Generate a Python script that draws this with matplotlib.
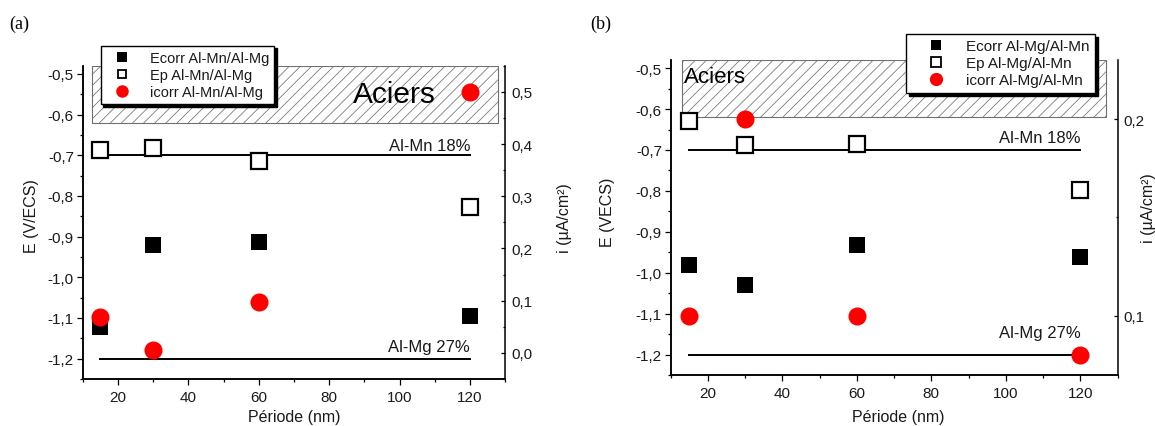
import matplotlib.pyplot as plt
from matplotlib.patches import Rectangle
from matplotlib.lines import Line2D
from matplotlib.ticker import MultipleLocator, FuncFormatter

plt.rcParams['font.family'] = ['Liberation Sans', 'DejaVu Sans']
plt.rcParams['hatch.linewidth'] = 0.55

W, H = 1155, 427

periods = [15, 30, 60, 120]

# (a) multilayers Al-Mn/Al-Mg
ecorr_a = [-1.123, -0.920, -0.913, -1.094]
ep_a = [-0.688, -0.682, -0.715, -0.827]
icorr_a = [0.068, 0.005, 0.098, 0.500]

# (b) multilayers Al-Mg/Al-Mn
ecorr_b = [-0.980, -1.031, -0.931, -0.961]
ep_b = [-0.628, -0.688, -0.686, -0.797]
icorr_b = [0.100, 0.200, 0.100, 0.080]

alloy_names = ['Al-Mn 18%', 'Al-Mg 27%']
alloy_E = [-0.70, -1.20]
alloy_span = [15, 120]
steel_E = [-0.62, -0.48]

TXT = '#1a1a1a'


def comma(v, pos):
  if abs(v) < 1e-9:
    v = 0.0
  return f"{v:.1f}".replace('.', ',')


def fx(px):
  return px / W


def fy(py):
  return 1 - py / H


def panel(box, ecorr, ep, icorr, ilim, steel_x, aciers, label_dy):
  l, t, r, b = box
  ax = plt.gcf().add_axes([fx(l), fy(b), fx(r) - fx(l), fy(t) - fy(b)])
  ax2 = ax.twinx()

  # steel domain
  ax.add_patch(Rectangle((steel_x[0], steel_E[0]), steel_x[1] - steel_x[0],
                         steel_E[1] - steel_E[0], facecolor='white',
                         edgecolor='#707070', hatch='///', lw=0.8, zorder=1))
  ax.text(aciers[0], aciers[1], 'Aciers', fontsize=aciers[2], color='k',
          va='baseline', ha='left', zorder=2)

  # pure alloys
  for name, e, dy in zip(alloy_names, alloy_E, label_dy):
    ax.plot(alloy_span, [e, e], color='k', lw=1.4, zorder=2)
    ax.text(alloy_span[1], e + dy, name, fontsize=12, color=TXT,
            ha='right', va='baseline')

  ax.plot(periods, ecorr, 's', ms=12, color='k', mew=0, zorder=3,
          clip_on=False)
  ax.plot(periods, ep, 's', ms=11, mfc='white', mec='k', mew=1.6, zorder=3,
          clip_on=False)
  ax2.plot(periods, icorr, 'o', ms=13, color='#ff0000', mew=0, zorder=4,
           clip_on=False)

  ax.set_xlim(10, 130)
  ax.set_ylim(-1.25, -0.48)
  ax2.set_ylim(*ilim)

  ax.xaxis.set_major_locator(MultipleLocator(20))
  ax.xaxis.set_minor_locator(MultipleLocator(10))
  ax.yaxis.set_major_locator(MultipleLocator(0.1))
  ax.yaxis.set_minor_locator(MultipleLocator(0.05))
  ax2.yaxis.set_major_locator(MultipleLocator(0.1))
  ax2.yaxis.set_minor_locator(MultipleLocator(0.05))
  ax.yaxis.set_major_formatter(FuncFormatter(comma))
  ax2.yaxis.set_major_formatter(FuncFormatter(comma))

  for a in (ax, ax2):
    a.spines['top'].set_visible(False)
    for s in a.spines.values():
      s.set_linewidth(1.1)
    a.patch.set_visible(False)
  ax.spines['right'].set_visible(False)
  ax.tick_params(axis='both', which='major', direction='out', length=4.3,
                 width=0.9, labelsize=11, labelcolor=TXT, color='k')
  ax.tick_params(axis='both', which='minor', direction='out', length=2.2,
                 width=0.9)
  ax.tick_params(axis='y', pad=2)
  ax.tick_params(axis='x', pad=3.5)
  ax2.tick_params(axis='y', which='major', direction='in', length=3.2,
                  width=0.9, labelsize=11, labelcolor=TXT, pad=4.5)
  ax2.tick_params(axis='y', which='minor', direction='in', length=1.6,
                  width=0.9)
  return ax, ax2


fig = plt.figure(figsize=(W / 100, H / 100), dpi=100)

panel((82.7, 66.7, 505.3, 380), ecorr_a, ep_a, icorr_a, (-0.05, 0.55),
      (12.5, 128), (86.8, -0.569, 21.5), (0.014, 0.018))
panel((670.7, 61, 1117.5, 376), ecorr_b, ep_b, icorr_b, (0.07, 0.23),
      (13, 127), (13.45, -0.535, 16), (0.02, 0.044))

# panel letters and axis titles
fig.text(fx(9), fy(24), '(a)', family='Liberation Serif', fontsize=13,
         va='center', ha='left')
fig.text(fx(590), fy(24), '(b)', family='Liberation Serif', fontsize=13,
         va='center', ha='left')

labels = [
  (31.4, 216, 'E (V/ECS)', 90), (564, 218, 'i (\u00b5A/cm\u00b2)', 90),
  (294, 418, 'P\u00e9riode (nm)', 0),
  (607.6, 212, 'E (VECS)', 90), (1149, 208, 'i (\u00b5A/cm\u00b2)', 90),
  (898, 418, 'P\u00e9riode (nm)', 0),
]
for x, y, s, rot in labels:
  fig.text(fx(x), fy(y), s, rotation=rot, ha='center', va='center',
           fontsize=11.5, color=TXT)


def legend(names, anchor, fs, ms_sq, ms_o, hl, htp):
  handles = [
    Line2D([], [], ls='none', marker='s', ms=ms_sq, color='k', mew=0),
    Line2D([], [], ls='none', marker='s', ms=ms_sq - 0.5, mfc='white',
           mec='k', mew=1.3),
    Line2D([], [], ls='none', marker='o', ms=ms_o, color='#ff0000', mew=0),
  ]
  leg = fig.legend(handles, names, loc='upper left',
                   bbox_to_anchor=(fx(anchor[0]), fy(anchor[1])),
                   bbox_transform=fig.transFigure, borderaxespad=0,
                   fancybox=False, shadow={'color': 'k', 'alpha': 1},
                   edgecolor='k', framealpha=1, fontsize=fs, borderpad=0.35,
                   handlelength=hl, handletextpad=htp, labelspacing=0.2,
                   labelcolor=TXT)
  leg.get_frame().set_linewidth(1.0)
  return leg


legend(['Ecorr Al-Mn/Al-Mg', 'Ep Al-Mn/Al-Mg', 'icorr Al-Mn/Al-Mg'],
       (100.7, 46.7), 10.5, 6.5, 9, 2.2, 0.8)
legend(['Ecorr Al-Mg/Al-Mn', 'Ep Al-Mg/Al-Mn', 'icorr Al-Mg/Al-Mn'],
       (906, 35), 11, 7.5, 9.5, 3.2, 0.4)

fig.savefig('out.png', dpi=100, facecolor='white')
